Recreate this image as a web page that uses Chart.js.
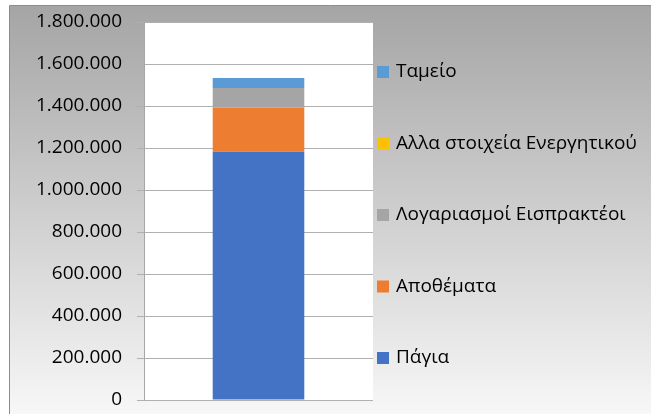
<!DOCTYPE html>
<html>
<head>
<meta charset="utf-8">
<script src="https://cdn.jsdelivr.net/npm/chart.js@4"></script>
<style>
  html, body { margin: 0; padding: 0; background: #fff; }
  #wrap { width: 651px; height: 414px; }
</style>
</head>
<body>
<div id="wrap"><canvas id="chart" width="651" height="414"></canvas></div>
<script>
// data
const categories = [''];
const seriesNames = ['Πάγια', 'Αποθέματα', 'Λογαριασμοί Εισπρακτέοι', 'Αλλα στοιχεία Ενεργητικού', 'Ταμείο'];
const pagia = [1182000];
const apothemata = [210000];
const logariasmoi = [94000];
const alla = [0];
const tameio = [47000];
const seriesColors = ['#4472c4', '#ed7d31', '#a5a5a5', '#ffc000', '#5b9bd5'];
const yTicks = [0, 200000, 400000, 600000, 800000, 1000000, 1200000, 1400000, 1600000, 1800000];

const font = '"Open Sans", "Noto Sans", sans-serif';

function fmt(v) {
  return String(v).replace(/\B(?=(\d{3})+(?!\d))/g, '.');
}

// grey gradient frame + white plot area
const bgPlugin = {
  id: 'bg',
  beforeDraw(chart) {
    const c = chart.ctx;
    const a = chart.chartArea;
    c.save();
    const g = c.createLinearGradient(0, 6, 0, 414);
    g.addColorStop(0, '#a5a5a5');
    g.addColorStop(1, '#f7f7f7');
    c.fillStyle = g;
    c.fillRect(10, 6, 641, 408);
    c.strokeStyle = '#8c8c8c';
    c.lineWidth = 1;
    c.beginPath();
    c.moveTo(9.5, 414);
    c.lineTo(9.5, 5.5);
    c.lineTo(651, 5.5);
    c.stroke();
    c.fillStyle = '#ffffff';
    c.fillRect(a.left, a.top, a.right - a.left, a.bottom - a.top);
    c.restore();
  }
};

// legend on the right, top item = last series
const legendPlugin = {
  id: 'sideLegend',
  afterDraw(chart) {
    const c = chart.ctx;
    const a = chart.chartArea;
    const ds = chart.data.datasets;
    const step = 71.5;
    const mid = (a.top + a.bottom) / 2 + 4;
    c.save();
    c.font = '19px ' + font;
    c.textBaseline = 'middle';
    c.fillStyle = '#000';
    for (let i = ds.length - 1, k = 0; i >= 0; i--, k++) {
      const y = mid + (k - 2) * step;
      c.fillStyle = ds[i].backgroundColor;
      c.fillRect(a.right + 4, y - 6, 12, 12);
      c.fillStyle = '#000';
      c.fillText(ds[i].label, a.right + 23, y);
    }
    c.restore();
  }
};

const seriesData = [pagia, apothemata, logariasmoi, alla, tameio];

new Chart(document.getElementById('chart'), {
  type: 'bar',
  data: {
    labels: categories,
    datasets: seriesNames.map((name, i) => ({
      label: name,
      data: seriesData[i],
      backgroundColor: seriesColors[i],
      borderWidth: 0,
      barPercentage: 0.4,
      categoryPercentage: 1
    }))
  },
  options: {
    responsive: false,
    animation: false,
    layout: { padding: { left: 10, right: 278, top: 22, bottom: 14 } },
    plugins: {
      legend: { display: false },
      tooltip: { enabled: false }
    },
    scales: {
      x: {
        stacked: true,
        display: false
      },
      y: {
        stacked: true,
        min: 0,
        max: 1800000,
        afterBuildTicks(scale) {
          scale.ticks = yTicks.map(v => ({ value: v }));
        },
        afterFit(scale) {
          scale.width = 134;
          scale.paddingTop = 10;
          scale.paddingBottom = 10;
        },
        ticks: {
          padding: 15,
          color: '#000',
          font: { family: font, size: 19 },
          callback: v => fmt(v)
        },
        grid: {
          color: '#b0b0b0',
          lineWidth: 1,
          tickLength: 7
        },
        border: { color: '#a6a6a6' }
      }
    }
  },
  plugins: [bgPlugin, legendPlugin]
});
</script>
</body>
</html>
